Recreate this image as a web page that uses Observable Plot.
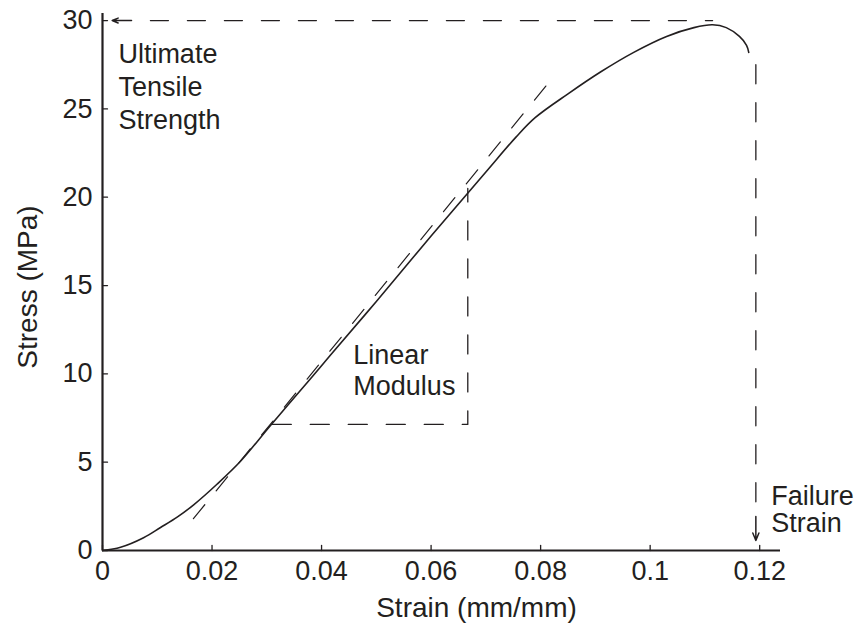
<!DOCTYPE html>
<html><head><meta charset="utf-8">
<script src="https://cdn.jsdelivr.net/npm/d3@7"></script>
<script src="https://cdn.jsdelivr.net/npm/@observablehq/plot@0.6"></script>
<style>body{margin:0;background:#fff}</style>
</head><body><div id="chart"></div>
<script>
// Stress–strain curve
const strain = [0, 0.0033, 0.0075, 0.0106, 0.0137, 0.0167, 0.0209, 0.0252, 0.0306, 0.0379, 0.0416, 0.05, 0.06, 0.0702, 0.0755, 0.079, 0.085, 0.091, 0.097, 0.103, 0.108, 0.1114, 0.1139, 0.1163, 0.1176, 0.118];
const stress = [0, 0.18, 0.72, 1.3, 1.9, 2.6, 3.75, 5.05, 7.05, 9.7, 11.05, 14.1, 17.8, 21.5, 23.4, 24.5, 25.85, 27.1, 28.2, 29.1, 29.6, 29.76, 29.6, 29.1, 28.6, 28.2];
// tangent (linear modulus) line
const tangentStrain = [0.0166, 0.0815];
const tangentStress = [1.8, 26.5];
// modulus triangle
const boxStrain = [0.031, 0.0667, 0.0667];
const boxStress = [7.14, 7.14, 20.5];
// ultimate tensile strength guide
const utsStrain = [0.00875, 0.1114];
const utsStress = [30, 30];
const utsArrowStrain = [0.0053, 0.00177];
// failure strain guide
const failStrain = [0.1193, 0.1193];
const failStress = [27.5, 2.6];
const failArrowStress = [1.93, 0.57];
// ticks
const xTicks = [0, 0.02, 0.04, 0.06, 0.08, 0.1, 0.12];
const xTickLabels = ["0", "0.02", "0.04", "0.06", "0.08", "0.1", "0.12"];
const yTicks = [0, 5, 10, 15, 20, 25, 30];
// annotations
const notes = [
  {x: 0.0029, y: 28.9, text: "Ultimate\nTensile\nStrength", lh: 1.22},
  {x: 0.0458, y: 11.78, text: "Linear\nModulus", lh: 1.13},
  {x: 0.1221, y: 3.68, text: "Failure\nStrain", lh: 1.0}
];

const ink = "#231f20";
const pts = (xs, ys) => xs.map((x, i) => ({x, y: ys[i]}));
const tickShape = {draw(context, l) { context.moveTo(0, 0); context.lineTo(0, -l); }};

const chart = Plot.plot({
  width: 858, height: 627,
  marginLeft: 102, marginRight: 78, marginTop: 13, marginBottom: 77,
  x: {domain: [0, 0.1238]},
  y: {domain: [0, 30.4]},
  style: {fontFamily: "'Liberation Sans', Arial, Helvetica, sans-serif", color: ink, background: "#fff"},
  marks: [
    Plot.axisX({ticks: xTicks, tickFormat: d => xTickLabels[xTicks.indexOf(d)], tickSize: 0, tickPadding: 10, fontSize: 27, label: null}),
    Plot.axisY({ticks: yTicks, tickFormat: d => String(d), tickSize: 0, tickPadding: 10, fontSize: 27, label: null}),
    Plot.vector(xTicks, {x: d => d, frameAnchor: "bottom", length: 5, rotate: 0, anchor: "start", shape: tickShape, stroke: ink, strokeWidth: 1.3}),
    Plot.vector(yTicks, {y: d => d, frameAnchor: "left", length: 5, rotate: 90, anchor: "start", shape: tickShape, stroke: ink, strokeWidth: 1.3}),
    Plot.ruleX([0], {stroke: ink, strokeWidth: 2.2}),
    Plot.ruleY([0], {stroke: ink, strokeWidth: 2.2}),
    Plot.line(pts(tangentStrain, tangentStress), {x: "x", y: "y", stroke: ink, strokeWidth: 1.2, strokeDasharray: "18,18"}),
    Plot.line(pts(boxStrain, boxStress), {x: "x", y: "y", stroke: ink, strokeWidth: 1.3, strokeDasharray: "19,19"}),
    Plot.line(pts(utsStrain, utsStress), {x: "x", y: "y", stroke: ink, strokeWidth: 1.3, strokeDasharray: "18,19"}),
    Plot.line(pts(failStrain, failStress), {x: "x", y: "y", stroke: ink, strokeWidth: 1.3, strokeDasharray: "19,19"}),
    Plot.arrow([{x1: utsArrowStrain[0], x2: utsArrowStrain[1], y: utsStress[0]}], {x1: "x1", x2: "x2", y1: "y", y2: "y", stroke: ink, strokeWidth: 1.5, headLength: 10, headAngle: 45}),
    Plot.arrow([{x: failStrain[0], y1: failArrowStress[0], y2: failArrowStress[1]}], {x1: "x", x2: "x", y1: "y1", y2: "y2", stroke: ink, strokeWidth: 1.5, headLength: 10, headAngle: 45}),
    Plot.line(pts(strain, stress), {x: "x", y: "y", stroke: ink, strokeWidth: 1.6, curve: "catmull-rom"}),
    ...notes.map(n => Plot.text([n], {x: "x", y: "y", text: "text", textAnchor: "start", lineAnchor: "top", lineHeight: n.lh, fontSize: 27, fill: ink})),
    Plot.text(["Strain (mm/mm)"], {frameAnchor: "bottom", textAnchor: "middle", lineAnchor: "middle", dx: 35, dy: 58, fontSize: 28, fill: ink}),
    Plot.text(["Stress (MPa)"], {frameAnchor: "left", textAnchor: "middle", lineAnchor: "middle", rotate: -90, dx: -74, dy: 5, fontSize: 28, fill: ink})
  ]
});
document.getElementById("chart").append(chart);
</script>
</body></html>
